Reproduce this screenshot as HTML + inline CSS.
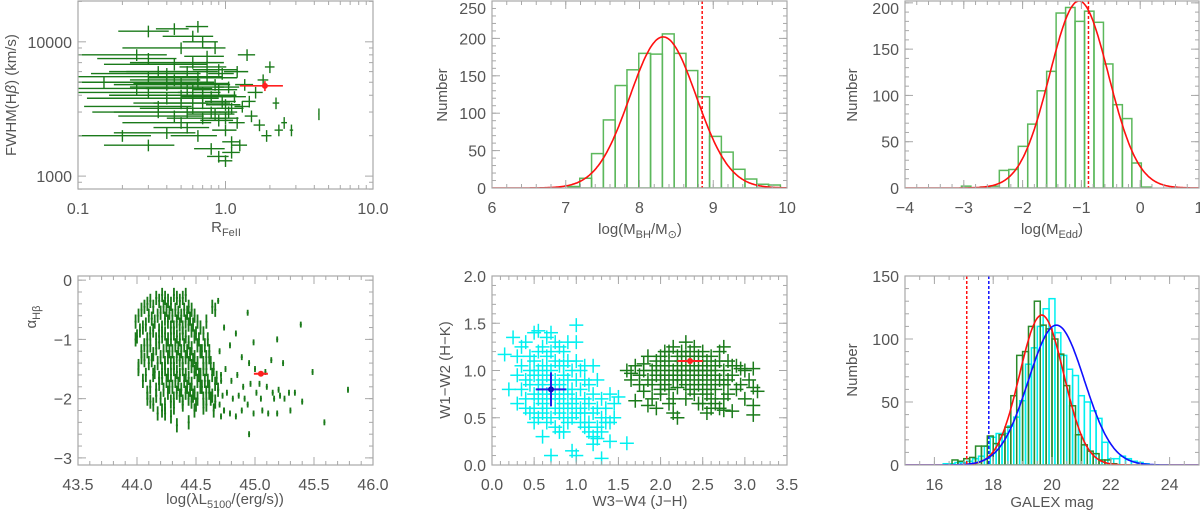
<!DOCTYPE html>
<html><head><meta charset="utf-8"><style>
html,body{margin:0;padding:0;background:#fff;width:1200px;height:510px;overflow:hidden}
svg text{font-family:"Liberation Sans",sans-serif;fill:#555}
</style></head><body>
<svg id="fig" width="1200" height="510" viewBox="0 0 1200 510" xmlns="http://www.w3.org/2000/svg"></svg>
<script>
// ---------- DATA ----------
// Panel 1: [R_FeII, FWHM, xerr]
const p1Points = [[0.55,4500,0.35],[0.45,5200,0.3],[0.6,3800,0.4],[0.7,4200,0.3],[0.5,3500,0.35],[0.4,4800,0.3],[0.35,6000,0.25],[0.8,3000,0.3],[0.9,2600,0.3],[1.0,2200,0.25],[1.1,1800,0.2],[0.65,5500,0.4],[0.75,6500,0.35],[0.3,7500,0.22],[0.25,8000,0.2],[0.5,9000,0.4],[0.6,11000,0.3],[0.7,10000,0.25],[0.85,4800,0.3],[0.95,3600,0.3],[1.05,3000,0.2],[1.2,2500,0.2],[1.3,3300,0.2],[1.5,2800,0.2],[1.6,4200,0.25],[1.8,5200,0.2],[2.0,6500,0.2],[2.2,3500,0.15],[2.5,2500,0.15],[2.8,2200,0.1],[4.3,2900,0.05],[0.45,2800,0.35],[0.55,2300,0.3],[0.65,2000,0.3],[0.8,1600,0.25],[0.9,1400,0.2],[1.0,1300,0.15],[1.1,1500,0.2],[1.25,1700,0.2],[0.7,2700,0.4],[0.6,3200,0.45],[0.5,4000,0.45],[0.4,3800,0.38],[0.35,3300,0.32],[0.3,4200,0.28],[0.2,2000,0.15],[0.15,5000,0.12],[0.3,1700,0.2],[0.4,2100,0.3],[0.55,6000,0.45],[0.75,7800,0.3],[0.85,9000,0.2],[0.95,5800,0.25],[1.05,4600,0.25],[1.15,3900,0.3],[1.35,4800,0.25],[1.45,3600,0.2],[1.7,2400,0.2],[1.9,2000,0.2],[2.3,2200,0.2],[0.5,5000,0.45],[0.6,4600,0.5],[0.7,3500,0.5],[0.8,3900,0.4],[0.9,4400,0.4],[1.0,3400,0.35],[0.45,6800,0.4],[0.65,4900,0.55],[0.85,2900,0.4],[1.0,2700,0.3],[1.1,3200,0.3],[0.3,5500,0.28],[0.4,5800,0.37],[0.6,7000,0.5],[0.75,5400,0.6],[0.9,6200,0.4],[1.2,6000,0.3],[1.4,8000,0.25],[0.55,3000,0.5],[0.7,4000,0.65],[0.35,3000,0.3],[0.5,2500,0.4],[0.25,4500,0.22],[0.3,12000,0.15],[0.45,12500,0.15],[0.65,13000,0.15]];
const p1Target = [1.85,4700,0.6,400];

// Panel 2: log MBH histogram
const mbhBinStart = 7.03;
const mbhBinWidth = 0.16;
const mbhCounts = [2,13,46,91,137,158,180,179,206,180,157,122,69,48,25,12,5,4];
const mbhFit = [202,8.32,0.45];
const mbhMark = 8.85;

// Panel 3: log Edd histogram
const eddBinStart = -3.04;
const eddBinWidth = 0.161;
const eddCounts = [2,0,1,2,19,20,45,69,105,126,189,195,180,191,179,134,90,75,27,1];
const eddFit = [202,-1.04,0.5];
const eddMark = -0.88;

// Panel 4: alpha vs luminosity (columns)
const lumCols = [44.0,44.05,44.1,44.15,44.2,44.25,44.3,44.35,44.4,44.45,44.5,44.55,44.6,44.65,44.7,44.75,44.8,44.85,44.9,44.95,45.0,45.05,45.1,45.15,45.2,45.25,45.3,45.35,45.4,45.5,45.6,45.8];
const alphaByCol = [[-0.7,-0.95,-1.5,-1.0],[-0.5,-0.8,-1.1,-1.3,-1.7],[-0.4,-0.6,-0.9,-1.2,-1.4,-1.8,-2.0],[-0.45,-0.7,-1.0,-1.25,-1.55,-1.85,-2.1],[-0.35,-0.55,-0.8,-1.05,-1.3,-1.5,-1.75,-2.0,-2.2],[-0.3,-0.5,-0.7,-0.9,-1.1,-1.3,-1.5,-1.7,-1.9,-2.25],[-0.4,-0.6,-0.8,-1.0,-1.2,-1.4,-1.6,-1.8,-2.0,-2.3],[-0.3,-0.55,-0.75,-0.95,-1.15,-1.35,-1.55,-1.75,-1.95,-2.45],[-0.3,-0.5,-0.7,-0.9,-1.1,-1.3,-1.5,-1.7,-1.9,-2.1],[-0.45,-0.65,-0.85,-1.05,-1.25,-1.45,-1.65,-1.85,-2.05,-2.4],[-0.6,-0.9,-1.1,-1.3,-1.5,-1.7,-1.9,-2.1],[-0.8,-1.2,-1.4,-1.6,-1.8,-2.0],[-0.7,-1.0,-1.3,-1.5,-1.7,-1.9,-2.1],[-0.45,-1.5,-1.75,-1.95,-2.2],[-0.35,-1.2,-1.6,-1.85,-2.1,-2.3],[-0.8,-1.5,-1.9,-2.2],[-1.1,-1.7,-2.0,-2.25],[-0.9,-1.6,-1.95,-2.3],[-1.3,-1.8,-2.0,-2.2],[-0.55,-1.4,-1.75,-2.1,-2.6],[-1.05,-1.5,-1.9,-2.25],[-1.75,-2.0,-2.2],[-1.55,-1.8,-2.25],[-1.35,-1.9,-2.0],[-1.0,-1.85,-1.95,-2.25],[-1.4,-2.0],[-1.9,-2.2],[-1.9],[-0.75,-2.05],[-1.55],[-2.4],[-1.85]];
const lumCols2 = [44.025,44.075,44.125,44.175,44.225,44.275,44.325,44.375,44.425,44.475,44.525,44.575,44.625,44.675,44.725];
const alphaByCol2 = [[-0.6,-0.85,-1.2,-1.45],[-0.45,-0.75,-1.0,-1.35,-1.6,-1.9],[-0.35,-0.65,-0.85,-1.1,-1.35,-1.6,-2.05],[-0.3,-0.6,-0.85,-1.15,-1.4,-1.65,-1.95,-2.25],[-0.25,-0.45,-0.65,-0.95,-1.2,-1.4,-1.65,-1.85,-2.1],[-0.35,-0.55,-0.8,-1.0,-1.2,-1.4,-1.6,-1.8,-2.05],[-0.25,-0.5,-0.7,-0.9,-1.1,-1.3,-1.5,-1.7,-1.9,-2.15],[-0.35,-0.6,-0.8,-1.0,-1.2,-1.4,-1.6,-1.85,-2.05],[-0.25,-0.55,-0.75,-0.95,-1.2,-1.4,-1.6,-1.8,-2.0],[-0.5,-0.75,-0.95,-1.15,-1.35,-1.55,-1.75,-1.95,-2.2],[-0.7,-1.0,-1.2,-1.4,-1.6,-1.8,-2.0],[-0.9,-1.1,-1.3,-1.5,-1.7,-1.9,-2.15],[-1.2,-1.4,-1.6,-1.8,-2.0],[-0.5,-1.65,-1.85,-2.05],[-1.7,-1.95,-2.2]];
const p4Target = [45.05,-1.58];

// Panel 5: colour-colour
const cyanCols = [0.15,0.2,0.25,0.3,0.35,0.4,0.45,0.5,0.55,0.6,0.65,0.7,0.75,0.8,0.85,0.9,0.95,1.0,1.05,1.1,1.15,1.2,1.25,1.3,1.35,1.4,1.45,1.5,1.6];
const cyanY = [[1.17],[0.8],[1.35],[0.95,1.15,0.65],[0.8,1.05,1.25],[0.7,0.9,1.3,0.6],[0.85,1.0,0.55,1.15],[1.4,0.75,0.95,1.1,0.6,0.45],[1.42,0.7,0.85,1.2,0.5,1.0],[1.25,0.9,0.65,1.05,0.8,0.3,0.55],[1.35,1.15,0.95,0.75,0.6,0.45,1.05],[1.4,1.2,1.0,0.85,0.7,0.5,0.1],[1.1,0.9,0.75,0.6,0.4,1.3],[1.25,1.05,0.85,0.7,0.55,0.35],[1.2,0.95,0.8,0.65,0.5,0.35,1.05],[1.3,1.1,0.9,0.75,0.6,0.45],[1.0,0.8,0.65,0.5,0.15],[1.48,1.3,1.1,0.9,0.7,0.55,0.1],[1.0,0.8,0.6,0.45],[1.05,0.9,0.7,0.55,0.4],[0.85,0.65,0.45,0.35],[1.05,0.75,0.55,0.3,0.22],[0.9,0.6,0.4,0.28],[0.7,0.5,0.35,0.07],[0.6,0.45],[0.75,0.45,0.25],[0.65,0.5],[0.72],[0.23]];
const greenCols = [1.6,1.65,1.7,1.75,1.8,1.85,1.9,1.95,2.0,2.05,2.1,2.15,2.2,2.25,2.3,2.35,2.4,2.45,2.5,2.55,2.6,2.65,2.7,2.75,2.8,2.85,2.9,2.95,3.0,3.05,3.1,3.15];
const greenY = [[1.0],[0.97,0.9],[1.05,0.68],[0.85,0.95],[1.0,1.07,0.78],[0.63,1.15,0.9],[0.7,0.85,1.0],[0.95,1.1,1.05,0.6],[0.9,1.0,1.15,0.75,0.8],[1.05,0.85,1.2,0.95],[1.1,0.95,0.8,1.2,0.65],[1.0,1.25,0.9,0.7,0.55],[1.15,0.95,1.05,0.82,0.5],[1.2,1.0,0.9,1.1],[1.3,1.15,1.0,0.85,0.7],[1.2,1.05,0.95,0.8],[1.1,1.0,0.9,1.25,0.75],[1.15,1.0,0.85,0.65],[1.2,1.05,0.95,0.8,0.65],[1.1,1.0,0.9,0.75,0.55],[1.15,1.0,0.85,0.7,0.6],[1.05,0.95,0.8,0.65],[1.1,0.9,1.2,0.6],[1.25,1.0,0.85,0.7,0.58],[1.1,0.9,0.75],[0.95,1.05,0.57],[1.05,0.8],[0.85,1.02],[1.0,0.7],[0.9],[1.02,0.82,0.53,0.63],[0.78]];
const blueMean = [0.7,0.8,0.18,0.18];
const redMean = [2.35,1.1,0.15,0.03];

// Panel 6: GALEX histograms
const galGreenStart = 16.6;
const galCyanStart = 16.3;
const galBinWidth = 0.2;
const galGreenCounts = [4,3,5,6,15,15,23,17,24,30,55,87,90,110,130,111,108,100,88,63,47,24,16,11,9,4,4,1];
const galCyanCounts = [1,1,2,2,3,5,7,15,22,25,25,31,38,51,80,93,110,124,132,105,87,76,71,55,50,43,37,18,5,5,7,5,3,2,1];
const galRedFit = [119,19.65,0.75];
const galBlueFit = [111,20.15,0.95];
const galMarks = [17.1,17.85];

// ---------- DRAWING ----------
const NS='http://www.w3.org/2000/svg';
const svg=document.getElementById('fig');
function mk(tag,attrs,parent){const e=document.createElementNS(NS,tag);for(const k in attrs)e.setAttribute(k,attrs[k]);(parent||svg).appendChild(e);return e;}

function makeAxes(p){
  p.sx=v=>{const t=p.xlog?Math.log10(v):v;return p.x0+(t-p.xmin)/(p.xmax-p.xmin)*(p.x1-p.x0);};
  p.sy=v=>{const t=p.ylog?Math.log10(v):v;return p.y1-(t-p.ymin)/(p.ymax-p.ymin)*(p.y1-p.y0);};
  const g=mk('g',{});
  
  
  p.g=g;
  const clipId='clip-'+p.name;
  const cp=mk('clipPath',{id:clipId},g);
  mk('rect',{x:p.x0,y:p.y0,width:p.x1-p.x0,height:p.y1-p.y0},cp);
  p.plot=mk('g',{'clip-path':'url(#'+clipId+')'},g);
  
  
  return p;
}
function drawFrame(p,xt,yt){
  const g=p.g;
  const fr=mk('rect',{x:p.x0,y:p.y0,width:p.x1-p.x0,height:p.y1-p.y0,fill:'none',stroke:'#a8a8a8','stroke-width':1.2},g);
  
  
  const xg=mk('g',{stroke:'#a8a8a8','stroke-width':1},g);
  
  
  xt.minor.forEach(v=>{const x=p.sx(v);mk('line',{x1:x,x2:x,y1:p.y1,y2:p.y1-4},xg);mk('line',{x1:x,x2:x,y1:p.y0,y2:p.y0+4},xg);});
  xt.major.forEach((v,i)=>{const x=p.sx(v);mk('line',{x1:x,x2:x,y1:p.y1,y2:p.y1-8},xg);mk('line',{x1:x,x2:x,y1:p.y0,y2:p.y0+8},xg);
    const t=mk('text',{x:x,y:p.y1+25,'text-anchor':'middle','font-size':16},g);t.textContent=xt.labels[i];
    
    });
  const yg=mk('g',{stroke:'#a8a8a8','stroke-width':1},g);
  
  
  yt.minor.forEach(v=>{const y=p.sy(v);mk('line',{y1:y,y2:y,x1:p.x0,x2:p.x0+4},yg);mk('line',{y1:y,y2:y,x1:p.x1,x2:p.x1-4},yg);});
  yt.major.forEach((v,i)=>{const y=p.sy(v);mk('line',{y1:y,y2:y,x1:p.x0,x2:p.x0+8},yg);mk('line',{y1:y,y2:y,x1:p.x1,x2:p.x1-8},yg);
    const t=mk('text',{x:p.x0-6,y:Math.max(y+6,14),'text-anchor':'end','font-size':16},g);t.textContent=yt.labels[i];
    
    });
}
function rng(a,b,s){const r=[];for(let v=a;v<=b+1e-9;v+=s)r.push(+v.toFixed(4));return r;}
function axisTitle(html,x,y,rot,name){
  const t=mk('text',{x:x,y:y,'text-anchor':'middle','font-size':15,transform:rot?`rotate(-90 ${x} ${y})`:''});
  t.innerHTML=html;
  
  
}
function gauss(p,fit,lo,hi,color,name){
  let d='';for(let v=lo;v<=hi+1e-9;v+=(hi-lo)/300){const c=fit[0]*Math.exp(-0.5*Math.pow((v-fit[1])/fit[2],2));d+=(d?'L':'M')+p.sx(v).toFixed(1)+','+p.sy(c).toFixed(1);}
  const e=mk('path',{d:d,fill:'none',stroke:color,'stroke-width':1.6},p.plot);
  
  
}
function vdash(p,v,color,name){
  const x=p.sx(v);const e=mk('line',{x1:x,x2:x,y1:p.y0,y2:p.y1,stroke:color,'stroke-width':1.5,'stroke-dasharray':'3,2'},p.plot);
  
  
}
function hist(p,start,w,counts,color,name,sw){
  counts.forEach((c,i)=>{if(c<=0)return;const a=start+i*w;const x=p.sx(a),x2=p.sx(a+w);const y=p.sy(c),y0=p.sy(0);
    const r=mk('rect',{x:x,y:y,width:x2-x,height:y0-y,fill:'none',stroke:color,'stroke-width':sw||1.5},p.plot);
    
    });
}
function cross(p,x,y,ex1,ex2,ey1,ey2,color,sw,name){
  const g=mk('g',{stroke:color,'stroke-width':sw},p.plot);
  
  
  mk('line',{x1:ex1,x2:ex2,y1:y,y2:y},g);mk('line',{x1:x,x2:x,y1:ey1,y2:ey2},g);
}

// Panel 1
const P1=makeAxes({name:'fwhm-vs-rfe-panel',x0:78,x1:373,y0:1,y1:189,xlog:true,xmin:-1,xmax:1,ylog:true,ymin:2.904,ymax:4.304});
const errScale=0.75;
p1Points.forEach(d=>{const x=P1.sx(d[0]),y=P1.sy(d[1]);const e=d[2]*errScale;const lo=Math.max(d[0]-e,0.05);
  cross(P1,x,y,P1.sx(lo),P1.sx(d[0]+e),P1.sy(d[1]*0.9),P1.sy(d[1]*1.1),'#1a7a1a',1.4,'fwhm-point');});
{const d=p1Target;const x=P1.sx(d[0]),y=P1.sy(d[1]);cross(P1,x,y,P1.sx(d[0]-d[2]),P1.sx(d[0]+d[2]),P1.sy(d[1]-d[3]),P1.sy(d[1]+d[3]),'#ff2020',1.6,'target-point');
  const c=mk('circle',{cx:x,cy:y,r:3,fill:'#ff2020'},P1.plot);}
const p1xMinor=[];for(let dec of [0.1,1])for(let k=2;k<=9;k++)p1xMinor.push(dec*k);
const p1yMinor=[];for(let k=2;k<=9;k++)p1yMinor.push(1000*k);p1yMinor.push(900,800,20000);
drawFrame(P1,{major:[0.1,1,10],minor:p1xMinor,labels:['0.1','1.0','10.0']},{major:[1000,10000],minor:p1yMinor,labels:['1000','10000']});
axisTitle('FWHM(H<tspan font-style="italic">β</tspan>)  (km/s)',16,95,true,'y-axis-title-fwhm');
axisTitle('R<tspan font-size="11" dy="4">FeII</tspan>',226,232,false,'x-axis-title-rfe');

// Panel 2
const P2=makeAxes({name:'mbh-histogram-panel',x0:492,x1:787,y0:1,y1:188,xmin:6,xmax:10,ymin:0,ymax:250});
hist(P2,mbhBinStart,mbhBinWidth,mbhCounts,'#5cb85c','mbh-bin');
gauss(P2,mbhFit,6,10,'#ff1010','mbh-gaussian-fit');
vdash(P2,mbhMark,'#ff1010','mbh-target-line');
drawFrame(P2,{major:[6,7,8,9,10],minor:rng(6,10,0.2),labels:['6','7','8','9','10']},{major:[0,50,100,150,200,250],minor:rng(0,250,10),labels:['0','50','100','150','200','250']});
axisTitle('Number',447,95,true,'y-axis-title-number');
axisTitle('log(M<tspan font-size="11" dy="4">BH</tspan><tspan dy="-4">/M</tspan><tspan font-size="11" dy="4">⊙</tspan><tspan dy="-4">)</tspan>',640,234,false,'x-axis-title-mbh');

// Panel 3
const P3=makeAxes({name:'edd-histogram-panel',x0:905,x1:1199,y0:1,y1:188,xmin:-4,xmax:1,ymin:0,ymax:202});
hist(P3,eddBinStart,eddBinWidth,eddCounts,'#5cb85c','edd-bin');
gauss(P3,eddFit,-4,1,'#ff1010','edd-gaussian-fit');
vdash(P3,eddMark,'#ff1010','edd-target-line');
drawFrame(P3,{major:[-4,-3,-2,-1,0,1],minor:rng(-4,1,0.2),labels:['−4','−3','−2','−1','0','1']},{major:[0,50,100,150,200],minor:rng(0,200,10),labels:['0','50','100','150','200']});
axisTitle('Number',857,95,true,'y-axis-title-number-edd');
axisTitle('log(M<tspan font-size="11" dy="4">Edd</tspan><tspan dy="-4">)</tspan>',1052,234,false,'x-axis-title-edd');

// Panel 4
const P4=makeAxes({name:'alpha-vs-luminosity-panel',x0:78,x1:373,y0:276,y1:465,xmin:43.5,xmax:46,ymin:-3.12,ymax:0.07});
function alphaCols(cols,vals,dense){
  cols.forEach((lx,i)=>{vals[i].forEach((a,j)=>{const x=P4.sx(lx+((j%3)-1)*0.012),y=P4.sy(a);const h=(dense&&lx<44.7)?0.12:0.05;
    cross(P4,x,y,x-1,x+1,P4.sy(a-h),P4.sy(a+h),'#1a7a1a',1.8,'alpha-point');});});
}
alphaCols(lumCols,alphaByCol,true);
alphaCols(lumCols2,alphaByCol2,true);
{const x=P4.sx(p4Target[0]),y=P4.sy(p4Target[1]);cross(P4,x,y,x-7,x+7,y-2,y+2,'#ff2020',2,'alpha-target');
  const c=mk('circle',{cx:x,cy:y,r:3,fill:'#ff2020'},P4.plot);}
drawFrame(P4,{major:[43.5,44,44.5,45,45.5,46],minor:rng(43.5,46,0.1),labels:['43.5','44.0','44.5','45.0','45.5','46.0']},{major:[-3,-2,-1,0],minor:rng(-3,0,0.2),labels:['−3','−2','−1','0']});
axisTitle('α<tspan font-size="11" dy="4">Hβ</tspan>',36,317,true,'y-axis-title-alpha');
axisTitle('log(λL<tspan font-size="11" dy="4">5100</tspan><tspan dy="-4">/(erg/s))</tspan>',225,504,false,'x-axis-title-luminosity');

// Panel 5
const P5=makeAxes({name:'colour-colour-panel',x0:492,x1:787,y0:276,y1:465,xmin:0,xmax:3.5,ymin:0,ymax:2});
cyanCols.forEach((cx,i)=>cyanY[i].forEach(cy=>{const x=P5.sx(cx),y=P5.sy(cy);cross(P5,x,y,x-7,x+7,y-7,y+7,'#00f0f0',1.5,'cyan-point');}));
greenCols.forEach((cx,i)=>greenY[i].forEach(cy=>{const x=P5.sx(cx),y=P5.sy(cy);cross(P5,x,y,x-7,x+7,y-7,y+7,'#1a7a1a',1.5,'green-point');}));
{const d=blueMean;const x=P5.sx(d[0]),y=P5.sy(d[1]);cross(P5,x,y,P5.sx(d[0]-d[2]),P5.sx(d[0]+d[2]),P5.sy(d[1]-d[3]),P5.sy(d[1]+d[3]),'#2020e0',2,'blue-mean');
  const c=mk('circle',{cx:x,cy:y,r:3,fill:'#1010c0'},P5.plot);}
{const d=redMean;const x=P5.sx(d[0]),y=P5.sy(d[1]);cross(P5,x,y,P5.sx(d[0]-d[2]),P5.sx(d[0]+d[2]),P5.sy(d[1]-d[3]),P5.sy(d[1]+d[3]),'#ff2020',2,'red-mean');
  const c=mk('circle',{cx:x,cy:y,r:3,fill:'#ff2020'},P5.plot);}
drawFrame(P5,{major:[0,0.5,1,1.5,2,2.5,3,3.5],minor:rng(0,3.5,0.1),labels:['0.0','0.5','1.0','1.5','2.0','2.5','3.0','3.5']},{major:[0,0.5,1,1.5,2],minor:rng(0,2,0.1),labels:['0.0','0.5','1.0','1.5','2.0']});
axisTitle('W1−W2  (H−K)',450,370,true,'y-axis-title-w1w2');
axisTitle('W3−W4  (J−H)',640,506,false,'x-axis-title-w3w4');

// Panel 6
const P6=makeAxes({name:'galex-histogram-panel',x0:905,x1:1199,y0:276,y1:465,xmin:15,xmax:25,ymin:0,ymax:150});
hist(P6,galCyanStart,galBinWidth,galCyanCounts,'#00f0f0','galex-cyan-bin',1.5);
hist(P6,galGreenStart,galBinWidth,galGreenCounts,'#2a8a2a','galex-green-bin',1.5);
gauss(P6,galRedFit,15,25,'#ff1010','galex-red-fit');
gauss(P6,galBlueFit,15,25,'#1010ff','galex-blue-fit');
vdash(P6,galMarks[0],'#ff1010','galex-red-line');
vdash(P6,galMarks[1],'#1010ff','galex-blue-line');
drawFrame(P6,{major:[16,18,20,22,24],minor:rng(15,25,0.5),labels:['16','18','20','22','24']},{major:[0,50,100,150],minor:rng(0,150,10),labels:['0','50','100','150']});
axisTitle('Number',857,370,true,'y-axis-title-number-galex');
axisTitle('GALEX  mag',1052,507,false,'x-axis-title-galex');
</script>
</body></html>
